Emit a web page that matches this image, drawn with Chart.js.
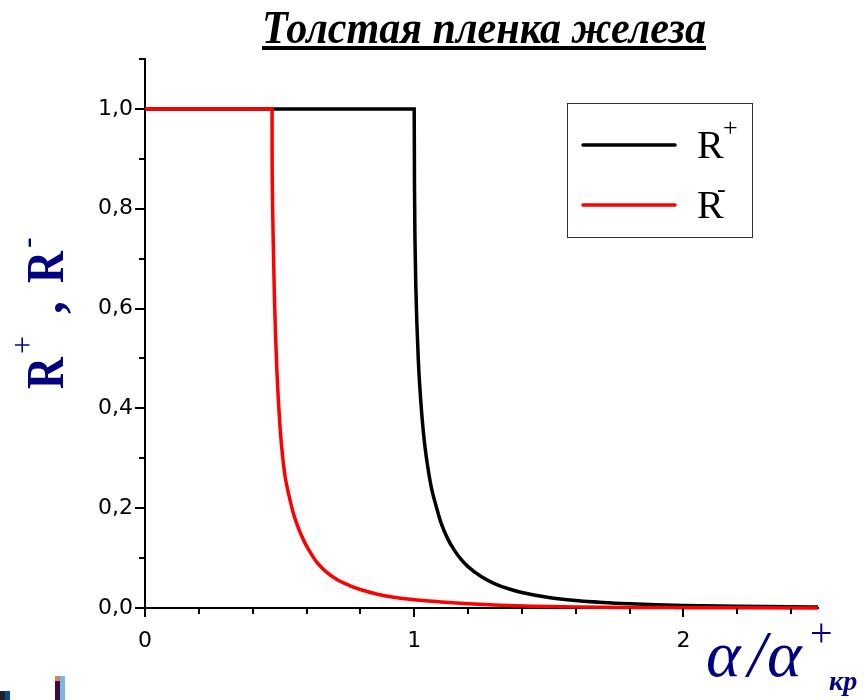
<!DOCTYPE html>
<html>
<head>
<meta charset="utf-8">
<script src="https://cdn.jsdelivr.net/npm/chart.js@4.4.1/dist/chart.umd.min.js"></script>
<style>
  html, body { margin: 0; padding: 0; background: #fff; }
  #wrap { width: 864px; height: 700px; position: relative; }
</style>
</head>
<body>
<div id="wrap"><canvas id="c" width="864" height="700"></canvas></div>
<script>
// ---- data ----
const chartTitle = "Толстая пленка железа";
const rPlusX = [0, 1.0, 1.001, 1.003, 1.006, 1.01, 1.015, 1.02, 1.03, 1.04, 1.05, 1.065, 1.08, 1.1, 1.125, 1.15, 1.175, 1.2, 1.25, 1.3, 1.35, 1.4, 1.5, 1.6, 1.7, 1.8, 1.9, 2.0, 2.2, 2.4, 2.5];
const rPlusY = [1, 1, 0.85, 0.735, 0.645, 0.57, 0.50, 0.45, 0.376, 0.323, 0.284, 0.238, 0.207, 0.17, 0.138, 0.115, 0.097, 0.083, 0.0625, 0.0485, 0.0385, 0.031, 0.021, 0.015, 0.0112, 0.0085, 0.0066, 0.0052, 0.0034, 0.0023, 0.002];
const rMinusX = [0, 0.472, 0.4722, 0.473, 0.4745, 0.477, 0.4805, 0.485, 0.49, 0.495, 0.502, 0.51, 0.52, 0.535, 0.551, 0.57, 0.589, 0.61, 0.638, 0.67, 0.713, 0.76, 0.80, 0.86, 0.923, 1.0, 1.1, 1.2, 1.32, 1.44, 1.6, 1.8, 2.0, 2.2, 2.5];
const rMinusY = [1, 1, 0.92, 0.85, 0.79, 0.717, 0.63, 0.545, 0.475, 0.42, 0.36, 0.31, 0.265, 0.225, 0.19, 0.16, 0.136, 0.115, 0.092, 0.074, 0.057, 0.045, 0.037, 0.028, 0.0215, 0.0165, 0.012, 0.0085, 0.0055, 0.0035, 0.0021, 0.0012, 0.0007, 0.0004, 0.0002];
const xTickLabels = ["0", "1", "2"];
const yTickLabels = ["0,0", "0,2", "0,4", "0,6", "0,8", "1,0"];
const seriesNames = ["R+", "R-"];

const toPts = (xs, ys) => xs.map((x, i) => ({ x: x, y: ys[i] }));
const NAVY = '#000080';

const decorPlugin = {
  id: 'decor',
  afterDraw(chart) {
    const ctx = chart.ctx;
    const xs = chart.scales.x, ys = chart.scales.y;
    const ca = chart.chartArea;
    ctx.save();
    // tick marks
    ctx.strokeStyle = '#000';
    ctx.lineWidth = 2;
    for (let i = 0; i <= 12; i++) {
      const v = i * 0.2;
      const px = Math.round(xs.getPixelForValue(v));
      const major = i % 5 === 0;
      ctx.beginPath();
      ctx.moveTo(px, ca.bottom);
      ctx.lineTo(px, ca.bottom + (major ? 9 : 6));
      ctx.stroke();
    }
    for (let j = 0; j <= 11; j++) {
      const v = j * 0.1;
      const py = Math.round(ys.getPixelForValue(v));
      const major = j % 2 === 0;
      ctx.beginPath();
      ctx.moveTo(ca.left, py);
      ctx.lineTo(ca.left - (major ? 10 : 6), py);
      ctx.stroke();
    }

    // title
    ctx.fillStyle = '#000';
    ctx.font = 'bold italic 46px "Liberation Serif"';
    ctx.textBaseline = 'alphabetic';
    ctx.textAlign = 'left';
    const tw = ctx.measureText(chartTitle).width;
    ctx.save();
    ctx.translate(262, 43);
    ctx.scale(444 / tw, 1);
    ctx.fillText(chartTitle, 0, 0);
    ctx.restore();
    ctx.fillRect(262, 46, 444, 4);

    // legend
    ctx.strokeStyle = '#333';
    ctx.lineWidth = 1;
    ctx.strokeRect(567.5, 103.5, 185, 134);
    ctx.lineCap = 'round';
    ctx.lineWidth = 3.5;
    ctx.strokeStyle = '#000';
    ctx.beginPath(); ctx.moveTo(583, 145); ctx.lineTo(675, 145); ctx.stroke();
    ctx.strokeStyle = '#ff0000';
    ctx.beginPath(); ctx.moveTo(583, 205); ctx.lineTo(675, 205); ctx.stroke();
    ctx.fillStyle = '#000';
    ctx.font = '40px "Liberation Serif"';
    ctx.fillText(seriesNames[0].charAt(0), 697, 158);
    ctx.fillText(seriesNames[1].charAt(0), 697, 218);
    ctx.font = '26px "Liberation Serif"';
    ctx.fillText(seriesNames[0].charAt(1), 723, 136);
    ctx.fillText(seriesNames[1].charAt(1), 717, 197);

    // y axis title (rotated)
    ctx.save();
    ctx.translate(63, 389);
    ctx.rotate(-Math.PI / 2);
    ctx.fillStyle = NAVY;
    const piece = (txt, font, u, v, sx) => {
      ctx.save();
      ctx.translate(u, v);
      ctx.scale(sx, 1);
      ctx.font = font;
      ctx.fillText(txt, 0, 0);
      ctx.restore();
    };
    piece('R', 'bold 52px "Liberation Serif"', 0, 0, 0.85);
    piece('+', '32px "Liberation Serif"', 35, -30, 1);
    piece(',', 'bold 52px "Liberation Serif"', 75, 0, 1.0);
    piece('R', 'bold 52px "Liberation Serif"', 106, 0, 0.85);
    piece('-', '32px "Liberation Serif"', 141, -26, 1);
    ctx.restore();

    // x axis title
    ctx.fillStyle = NAVY;
    ctx.font = 'italic 66px "Liberation Serif"';
    ctx.fillText('α', 706, 676);
    ctx.fillText('/', 748, 676);
    ctx.fillText('α', 767, 676);
    ctx.font = '40px "Liberation Serif"';
    ctx.fillText('+', 810, 646);
    ctx.font = 'bold italic 28px "Liberation Serif"';
    ctx.fillText('кр', 829, 690);

    // small image fragment at bottom-left corner
    ctx.fillStyle = '#74b9ea'; ctx.fillRect(60, 676, 5, 24);
    ctx.fillStyle = '#42083e'; ctx.fillRect(55, 681, 5, 19);
    ctx.fillStyle = '#c98a5e'; ctx.fillRect(55, 676, 5, 5);
    ctx.fillStyle = '#0b4a8a'; ctx.fillRect(5, 691, 5, 9);
    ctx.fillStyle = '#222'; ctx.fillRect(0, 691, 5, 9);
    ctx.restore();
  }
};

new Chart(document.getElementById('c'), {
  type: 'scatter',
  data: {
    datasets: [
      {
        label: seriesNames[1],
        data: toPts(rMinusX, rMinusY),
        showLine: true,
        borderColor: '#ff0000',
        backgroundColor: '#ff0000',
        borderWidth: 3.5,
        pointRadius: 0,
        cubicInterpolationMode: 'monotone',
        clip: false,
        order: 0
      },
      {
        label: seriesNames[0],
        data: toPts(rPlusX, rPlusY),
        showLine: true,
        borderColor: '#000000',
        backgroundColor: '#000000',
        borderWidth: 3.5,
        pointRadius: 0,
        cubicInterpolationMode: 'monotone',
        clip: false,
        order: 1
      }
    ]
  },
  options: {
    responsive: false,
    animation: false,
    devicePixelRatio: 1,
    layout: { padding: { left: 0, right: 46, top: 59, bottom: 0 } },
    plugins: { legend: { display: false }, tooltip: { enabled: false }, title: { display: false } },
    scales: {
      x: {
        type: 'linear',
        min: 0, max: 2.5,
        grid: { display: false, drawTicks: false },
        border: { display: true, color: '#000', width: 2 },
        ticks: {
          stepSize: 0.2,
          autoSkip: false,
          maxRotation: 0,
          padding: 20,
          color: '#000',
          font: { family: 'DejaVu Sans', size: 22 },
          callback: (v) => {
            const r = Math.round(v);
            return Math.abs(v - r) < 1e-6 && r < xTickLabels.length ? xTickLabels[r] : '';
          }
        },
        afterFit: (s) => { s.height = 92; }
      },
      y: {
        type: 'linear',
        min: 0, max: 1.1,
        grid: { display: false, drawTicks: false },
        border: { display: true, color: '#000', width: 2 },
        ticks: {
          stepSize: 0.1,
          autoSkip: false,
          padding: 12,
          color: '#000',
          font: { family: 'DejaVu Sans', size: 22 },
          callback: (v) => {
            const k = Math.round(v * 10);
            return (Math.abs(v * 10 - k) < 1e-6 && k % 2 === 0 && k / 2 < yTickLabels.length) ? yTickLabels[k / 2] : '';
          }
        },
        afterFit: (s) => { s.width = 145; }
      }
    }
  },
  plugins: [decorPlugin]
});
</script>
</body>
</html>
